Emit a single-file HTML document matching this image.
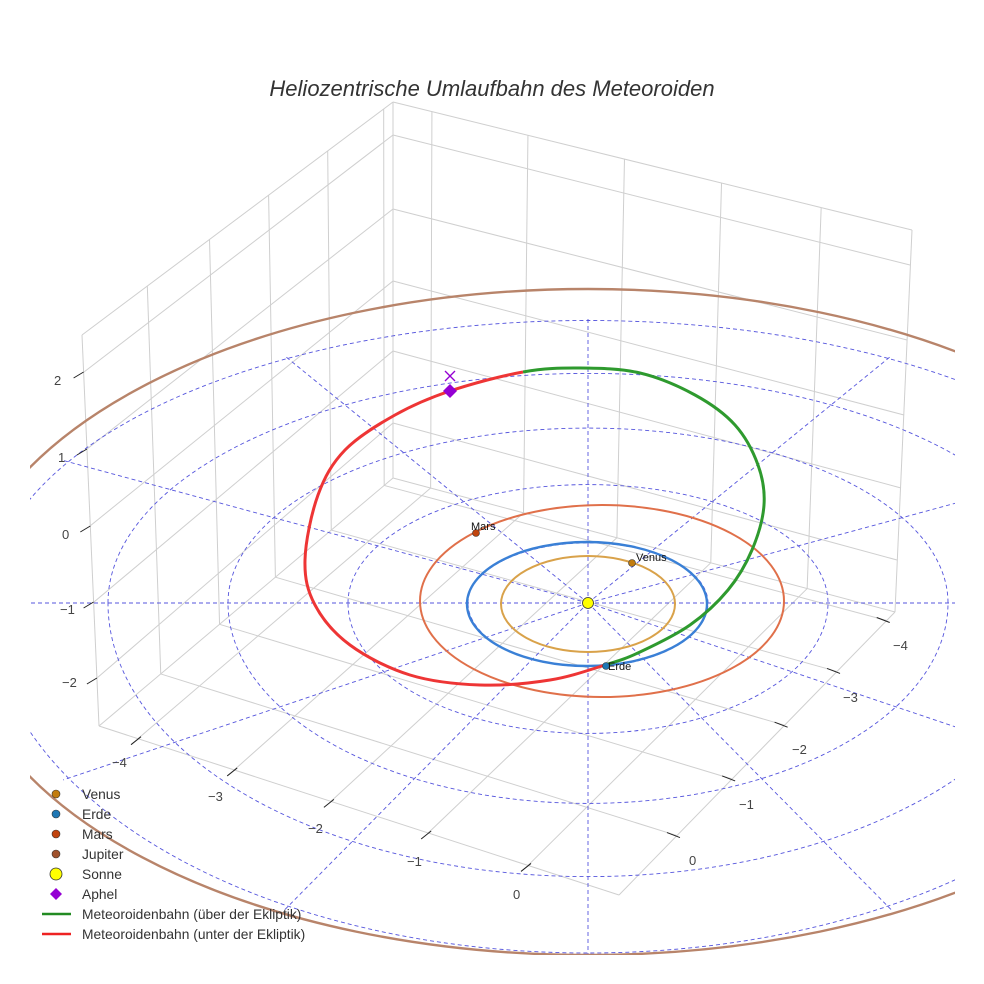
<!DOCTYPE html>
<html><head><meta charset="utf-8"><style>
html,body{margin:0;padding:0;background:#fff;width:984px;height:984px;overflow:hidden;}
svg{display:block;font-family:"Liberation Sans",sans-serif;}
</style></head><body>
<svg id="s" width="984" height="984" viewBox="0 0 984 984" xmlns="http://www.w3.org/2000/svg">
<defs><clipPath id="c"><rect x="30" y="0" width="925" height="955"/></clipPath></defs>
<rect width="984" height="984" fill="#fff"/>
<g id="box" stroke="#cfcfcf" stroke-width="1" fill="none"></g>
<g id="grid" clip-path="url(#c)" stroke="#5555dd" stroke-width="0.9" stroke-dasharray="4,3" fill="none"></g>
<g id="orb" clip-path="url(#c)" fill="none"></g>
<g id="ticks" stroke="#222" stroke-width="1"></g>
<g id="lbl" font-size="13" fill="#444"></g>
<text x="492" y="96" text-anchor="middle" font-size="22" font-style="italic" fill="#333">Heliozentrische Umlaufbahn des Meteoroiden</text>
<g font-size="13.8" fill="#333">
<circle cx="56" cy="794" r="4" fill="#c27c0e" stroke="#333" stroke-width="0.6"/><text x="82" y="799">Venus</text>
<circle cx="56" cy="814" r="4" fill="#1f77b4" stroke="#333" stroke-width="0.6"/><text x="82" y="819">Erde</text>
<circle cx="56" cy="834" r="4" fill="#c1440e" stroke="#333" stroke-width="0.6"/><text x="82" y="839">Mars</text>
<circle cx="56" cy="854" r="4" fill="#a0522d" stroke="#333" stroke-width="0.6"/><text x="82" y="859">Jupiter</text>
<circle cx="56" cy="874" r="6" fill="#ffff00" stroke="#333" stroke-width="0.8"/><text x="82" y="879">Sonne</text>
<polygon points="56,888 62,894 56,900 50,894" fill="#9400d3"/><text x="82" y="899">Aphel</text>
<line x1="42" y1="914" x2="71" y2="914" stroke="#228b22" stroke-width="2.5"/><text x="82" y="919">Meteoroidenbahn (über der Ekliptik)</text>
<line x1="42" y1="934" x2="71" y2="934" stroke="#ee2222" stroke-width="2.5"/><text x="82" y="939">Meteoroidenbahn (unter der Ekliptik)</text>
</g>
</svg>
<script>
const NS="http://www.w3.org/2000/svg";
function el(p,t,a){const e=document.createElementNS(NS,t);for(const k in a)e.setAttribute(k,a[k]);document.getElementById(p).appendChild(e);return e;}
function L(p,a,b,at){return el(p,"line",Object.assign({x1:a[0],y1:a[1],x2:b[0],y2:b[1]},at||{}));}
function lerp(a,b,t){return [a[0]+(b[0]-a[0])*t,a[1]+(b[1]-a[1])*t];}
const BK=[393,102],BKb=[393,478],FLt=[82,335],FLb=[99,726],RTt=[912,230],RTb=[895,612],FC=[619,895];
L("box",BK,FLt);L("box",BK,RTt);L("box",BK,BKb);L("box",FLt,FLb);L("box",RTt,RTb);
L("box",BKb,FLb);L("box",BKb,RTb);L("box",FLb,FC);L("box",FC,RTb);
const zb=[135,209,281,351,423],zf=[372,449,526,602,678],zr=[265,340,415,488,560];
for(let i=0;i<5;i++){L("box",[393,zb[i]],[Math.round(82+17*(zf[i]-335)/391),zf[i]]);
 L("box",[393,zb[i]],[Math.round(912-17*(zr[i]-230)/382),zr[i]]);}
const tA=[.075,.26,.446,.633,.825];
for(const t of tA){L("box",lerp(BKb,RTb,t),lerp(FLb,FC,t));L("box",lerp(BKb,RTb,t),lerp(BK,RTt,t));}
const sB=[.21,.41,.6,.79,.97];
for(const s of sB){L("box",lerp(FLb,BKb,s),lerp(FC,RTb,s));L("box",lerp(FLb,BKb,s),lerp(FLt,BK,s));}
const zl=["2","1","0","−1","−2"],zx=[54,58,62,60,62],zy=[385,462,539,614,687];
for(let i=0;i<5;i++){const x=82+17*(zf[i]-335)/391;L("ticks",[x-10,zf[i]+6],[x,zf[i]]);el("lbl","text",{x:zx[i],y:zy[i]}).textContent=zl[i];}
const xl=["−4","−3","−2","−1","0"],xp=[[112,767],[208,801],[308,833],[407,866],[513,899]];
tA.forEach((t,i)=>{const p=lerp(FLb,FC,t);L("ticks",[p[0]-7,p[1]+6],[p[0]+3,p[1]-2]);el("lbl","text",{x:xp[i][0],y:xp[i][1]}).textContent=xl[i];});
const yl=["0","−1","−2","−3","−4"],yp=[[689,865],[739,809],[792,754],[843,702],[893,650]];
sB.forEach((s,i)=>{const p=lerp(FC,RTb,s);L("ticks",[p[0]-10,p[1]-3],[p[0]+3,p[1]+2]);el("lbl","text",{x:yp[i][0],y:yp[i][1]}).textContent=yl[i];});
const C=[588,603];
function ry(k,up){return up?(k*(61-0.9*k)):(k*(62+1.6*k));}
function ring(k){const rx=120*k;return `M${C[0]-rx},${C[1]} A${rx},${ry(k,1)} 0 0 1 ${C[0]+rx},${C[1]} A${rx},${ry(k,0)} 0 0 1 ${C[0]-rx},${C[1]}`;}
for(let k=1;k<=5;k++)el("grid","path",{d:ring(k)});
for(let a=0;a<360;a+=30){const r=a*Math.PI/180,k=5.05,s=Math.sin(r);
 const x=C[0]+120*k*Math.cos(r),y=C[1]-(s>0?ry(k,1):ry(k,0))*s;L("grid",C,[x,y]);}
el("orb","ellipse",{cx:588,cy:604,rx:87,ry:48,stroke:"#d9a24a","stroke-width":2});
el("orb","ellipse",{cx:587,cy:604,rx:120,ry:62,stroke:"#3a80d6","stroke-width":2.4});
el("orb","ellipse",{cx:602,cy:601,rx:182,ry:96,stroke:"#e0704a","stroke-width":2});
el("orb","path",{d:"M-42,622 A630,333 0 0 1 1218,622 M-42,622 A630,333 0 0 0 1218,622",stroke:"#b8846a","stroke-width":2.4});
const P=[[450,391],[523,372],[580,368],[640,373],[695,395],[735,425],[758,465],[764,505],[752,550],[728,590],[690,625],[640,652],[605,665],[550,680],[480,685],[410,675],[350,645],[315,605],[305,560],[318,495],[345,450],[395,415],[450,391]];
function cr(pts,i0,i1){const n=pts.length-1;const g=i=>pts[((i%n)+n)%n];let d=`M${g(i0)}`;
 for(let i=i0;i<i1;i++){const p0=g(i-1),p1=g(i),p2=g(i+1),p3=g(i+2);
 d+=` C${p1[0]+(p2[0]-p0[0])/6},${p1[1]+(p2[1]-p0[1])/6} ${p2[0]-(p3[0]-p1[0])/6},${p2[1]-(p3[1]-p1[1])/6} ${p2}`;}return d;}
el("orb","path",{d:cr(P,1,12),stroke:"#2e9a2e","stroke-width":3});
el("orb","path",{d:cr(P,12,23),stroke:"#ee3535","stroke-width":3});
el("orb","line",{x1:445,y1:371,x2:455,y2:381,stroke:"#9400d3","stroke-width":1.3});
el("orb","line",{x1:455,y1:371,x2:445,y2:381,stroke:"#9400d3","stroke-width":1.3});
el("orb","polygon",{points:"450,384 457,391 450,398 443,391",fill:"#9400d3"});
el("orb","circle",{cx:476,cy:533,r:3.5,fill:"#c1440e",stroke:"#333","stroke-width":0.6});
el("orb","circle",{cx:632,cy:563,r:3.5,fill:"#c27c0e",stroke:"#333","stroke-width":0.6});
el("orb","circle",{cx:606,cy:666,r:3.5,fill:"#1f77b4",stroke:"#333","stroke-width":0.6});
el("orb","circle",{cx:588,cy:603,r:5.5,fill:"#ffff00",stroke:"#333","stroke-width":0.8});
[["Mars",471,530],["Venus",636,561],["Erde",608,670]].forEach(a=>{const t=el("orb","text",{x:a[1],y:a[2],"font-size":11,fill:"#111"});t.textContent=a[0];});
</script>
</body></html>
